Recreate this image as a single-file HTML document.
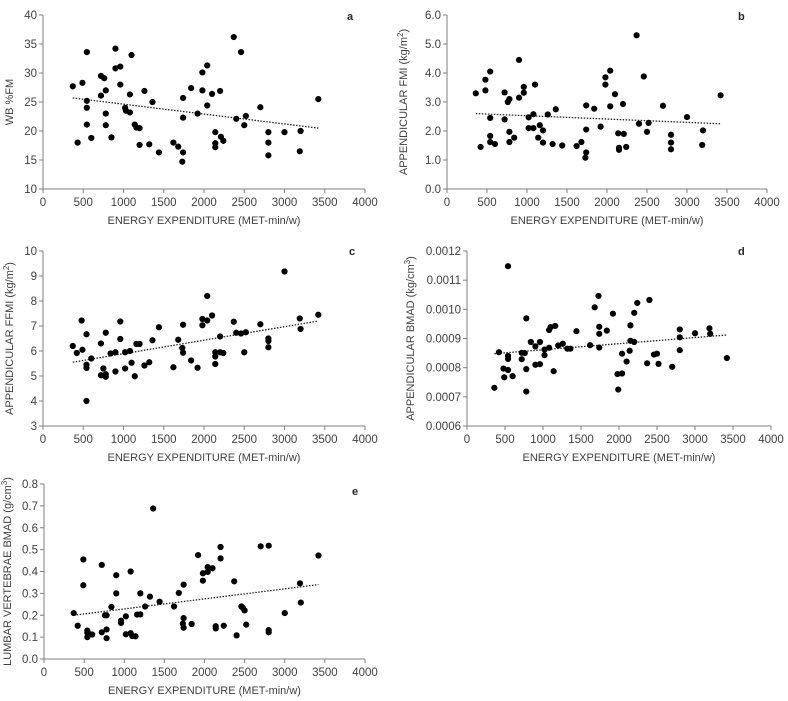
<!DOCTYPE html>
<html><head><meta charset="utf-8"><style>
html,body{margin:0;padding:0;background:#fff;}
svg{display:block;font-family:"Liberation Sans",Arial,sans-serif;}
</style></head><body>
<svg id="chart" width="788" height="701" viewBox="0 0 788 701"></svg>
<script>
const xTicks=[0,500,1000,1500,2000,2500,3000,3500,4000];
const aX=[370,430,490,545,545,545,545,600,720,720,760,780,780,780,850,900,900,960,960,1020,1030,1080,1080,1100,1140,1160,1200,1200,1260,1320,1360,1440,1620,1680,1730,1740,1740,1740,1840,1920,1980,1980,2040,2040,2100,2140,2140,2140,2200,2210,2240,2370,2400,2460,2500,2520,2700,2800,2800,2800,3000,3190,3200,3420];
const aY=[27.7,18,28.3,33.6,25.2,24,21.1,18.8,26.1,29.5,29.1,27,23,21,18.9,34.2,30.8,31.1,28,24,23.5,26.3,23.2,33.1,21.1,20.6,20.5,17.6,26.9,17.7,25,16.3,18,17.3,14.7,25.7,22.3,16.3,27.4,23,30.1,27,31.3,24.4,26.4,19.8,17.9,17.2,26.9,19,18.3,36.2,22.1,33.6,21,22.6,24.1,19.8,18,15.8,19.8,16.5,20,25.5];
const aTrend=[25.7,20.5];
const aTicks=[10,15,20,25,30,35,40];
const bX=[360,420,480,480,540,540,540,540,600,720,720,760,780,780,780,840,900,900,960,960,1020,1020,1080,1080,1100,1140,1160,1200,1200,1260,1320,1360,1440,1620,1680,1730,1740,1740,1740,1840,1920,1980,1980,2040,2040,2100,2140,2150,2150,2200,2210,2240,2370,2400,2460,2500,2520,2700,2800,2800,2800,3000,3190,3200,3420];
const bY=[3.3,1.45,3.77,3.4,4.05,2.45,1.83,1.62,1.55,3.33,2.4,3.0,3.1,1.97,1.62,1.77,4.45,3.15,3.52,3.32,2.47,2.1,2.58,2.1,3.6,1.77,2.2,2.02,1.6,2.57,1.55,2.75,1.5,1.48,1.62,1.08,2.88,2.05,1.26,2.77,2.15,3.85,3.6,4.08,2.85,3.27,1.92,1.42,1.35,2.93,1.9,1.45,5.3,2.25,3.88,1.97,2.28,2.87,1.87,1.6,1.37,2.48,1.52,2.02,3.23];
const bTrend=[2.6,2.25];
const bTicks=[0,1,2,3,4,5,6];
const cX=[370,420,480,490,540,540,540,540,600,720,720,750,780,780,780,840,900,900,960,960,1020,1020,1080,1100,1140,1160,1200,1260,1320,1360,1440,1620,1680,1730,1740,1740,1840,1920,1980,1980,2040,2040,2100,2140,2140,2140,2200,2200,2240,2370,2400,2460,2520,2500,2700,2800,2800,2800,3000,3190,3200,3420];
const cY=[6.2,5.92,7.22,6.05,6.67,5.45,5.32,4.0,5.7,6.3,5.03,5.3,6.73,5.07,4.97,5.9,5.95,5.18,7.18,6.48,5.95,5.3,6.0,5.53,4.99,6.28,6.28,5.42,5.55,6.43,6.95,5.35,6.45,6.12,7.05,5.93,5.62,5.33,7.28,7.03,8.2,7.22,7.42,5.95,5.78,5.48,6.58,5.95,5.92,7.17,6.73,6.7,6.75,5.95,7.07,6.5,6.4,6.15,9.18,7.3,6.88,7.45];
const cTrend=[5.55,7.2];
const cTicks=[3,4,5,6,7,8,9,10];
const dX=[360,420,480,490,540,540,540,540,600,720,720,760,780,780,780,840,900,900,960,960,1020,1020,1080,1080,1100,1140,1160,1200,1260,1320,1360,1440,1620,1680,1730,1740,1740,1740,1840,1920,1980,1990,2040,2040,2100,2140,2150,2150,2200,2200,2240,2370,2400,2460,2500,2520,2700,2800,2800,2800,3000,3190,3200,3420];
const dY=[.000731,.000853,.000797,.000767,.001148,.000840,.000830,.000792,.000771,.000851,.000829,.000850,.000969,.000795,.000718,.000888,.000873,.000810,.000888,.000812,.000862,.000843,.000929,.000868,.000939,.000788,.000943,.000876,.000882,.000865,.000865,.000925,.000877,.001007,.001046,.000940,.000916,.000869,.000927,.000985,.000778,.000725,.000780,.000848,.000821,.000858,.000945,.000892,.000988,.000888,.001022,.000815,.001032,.000845,.000848,.000813,.000803,.000931,.000904,.000860,.000918,.000935,.000916,.000833];
const dTrend=[.000848,.000912];
const dTicks=[.0006,.0007,.0008,.0009,.0010,.0011,.0012];
const eX=[370,420,490,490,540,540,540,560,600,720,720,760,780,780,780,840,900,900,960,960,1020,1020,1080,1080,1100,1140,1160,1200,1200,1260,1320,1360,1440,1620,1680,1740,1740,1730,1740,1840,1920,1980,1980,2040,2040,2100,2140,2140,2200,2200,2240,2370,2400,2460,2480,2500,2520,2700,2800,2800,2800,3000,3190,3200,3420];
const eY=[.21,.152,.455,.337,.13,.12,.10,.115,.112,.43,.122,.20,.20,.135,.095,.238,.383,.30,.175,.165,.195,.113,.40,.118,.105,.104,.203,.30,.204,.24,.285,.688,.262,.24,.302,.34,.187,.162,.143,.16,.475,.392,.358,.42,.398,.415,.15,.14,.512,.46,.152,.355,.108,.24,.233,.222,.157,.515,.518,.132,.122,.21,.346,.258,.473];
const eTrend=[.2,.34];
const eTicks=[0,.1,.2,.3,.4,.5,.6,.7,.8];

const NS="http://www.w3.org/2000/svg";
const svg=document.getElementById('chart');
function mk(tag,attrs,parent){const e=document.createElementNS(NS,tag);for(const k in attrs)e.setAttribute(k,attrs[k]);(parent||svg).appendChild(e);return e;}

function panel(cfg,xs,ys,trend,yTicks){
  const g=mk('g',{});
  
  
  const sx=v=>cfg.x0+(v-0)/4000*(cfg.x1-cfg.x0);
  const sy=v=>cfg.yb+(v-yTicks[0])/(yTicks[yTicks.length-1]-yTicks[0])*(cfg.yt-cfg.yb);
  const ax=mk('g',{},g);
  
  
  mk('line',{x1:cfg.x0,y1:cfg.yt,x2:cfg.x0,y2:cfg.yb,stroke:'#7f7f7f','stroke-width':1},ax);
  mk('line',{x1:cfg.x0,y1:cfg.yb,x2:cfg.x1,y2:cfg.yb,stroke:'#7f7f7f','stroke-width':1},ax);
  yTicks.forEach(t=>{const y=sy(t);
    mk('line',{x1:cfg.x0-4,y1:y,x2:cfg.x0,y2:y,stroke:'#7f7f7f'},ax);
    const tx=mk('text',{x:cfg.x0-6,y:y+4,'text-anchor':'end','font-size':11.5,fill:'#404040'},ax);
    tx.textContent=cfg.fmt(t);
    
    
  });
  xTicks.forEach(t=>{const x=sx(t);
    mk('line',{x1:x,y1:cfg.yb,x2:x,y2:cfg.yb+4,stroke:'#7f7f7f'},ax);
    const tx=mk('text',{x:x,y:cfg.yb+17,'text-anchor':'middle','font-size':11.5,fill:'#404040'},ax);
    tx.textContent=t;
    
    
  });
  const xt=mk('text',{x:(cfg.x0+cfg.x1)/2,y:cfg.yb+35,'text-anchor':'middle','font-size':11,fill:'#404040'},g);
  xt.textContent='ENERGY EXPENDITURE (MET-min/w)';
  
  
  const yc=(cfg.yt+cfg.yb)/2;
  const yt=mk('text',{x:0,y:0,'text-anchor':'middle','font-size':11,fill:'#404040',transform:`translate(${cfg.ytx},${yc}) rotate(-90)`},g);
  yt.innerHTML=cfg.ytitle;
  
  
  const lt=mk('text',{x:cfg.lx,y:cfg.ly,'font-size':11,'font-weight':'bold',fill:'#262626'},g);
  lt.textContent=cfg.letter;
  
  
  const xmin=Math.min(...xs),xmax=Math.max(...xs);
  const tl=mk('line',{x1:sx(xmin),y1:sy(trend[0]),x2:sx(xmax),y2:sy(trend[1]),stroke:'#222','stroke-width':1.3,'stroke-dasharray':'1.5,1.5'},g);
  
  
  xs.forEach((v,i)=>{
    const c=mk('circle',{cx:sx(v),cy:sy(ys[i]),r:3.1,fill:'#000'},g);
    
    
  });
}
const sup=s=>`<tspan font-size="8" dy="-4">${s}</tspan><tspan dy="4">)</tspan>`;
panel({name:'panel-a',x0:43,x1:365,yt:15,yb:189,fmt:t=>t,ytx:13,ytitle:'WB %FM',letter:'a',lx:347,ly:20},aX,aY,aTrend,aTicks);
panel({name:'panel-b',x0:447,x1:767,yt:15,yb:189,fmt:t=>t.toFixed(1),ytx:407,ytitle:'APPENDICULAR FMI (kg/m'+sup('2'),letter:'b',lx:738,ly:20},bX,bY,bTrend,bTicks);
panel({name:'panel-c',x0:43,x1:365,yt:251,yb:426,fmt:t=>t,ytx:13,ytitle:'APPENDICULAR FFMI (kg/m'+sup('2'),letter:'c',lx:349,ly:255},cX,cY,cTrend,cTicks);
panel({name:'panel-d',x0:467,x1:771,yt:251,yb:426,fmt:t=>t.toFixed(4),ytx:414,ytitle:'APPENDICULAR BMAD (kg/cm'+sup('3'),letter:'d',lx:738,ly:255},dX,dY,dTrend,dTicks);
panel({name:'panel-e',x0:44,x1:365,yt:484,yb:659,fmt:t=>t.toFixed(1),ytx:11,ytitle:'LUMBAR VERTEBRAE BMAD (g/cm'+sup('3'),letter:'e',lx:352,ly:495},eX,eY,eTrend,eTicks);
</script>
</body></html>
